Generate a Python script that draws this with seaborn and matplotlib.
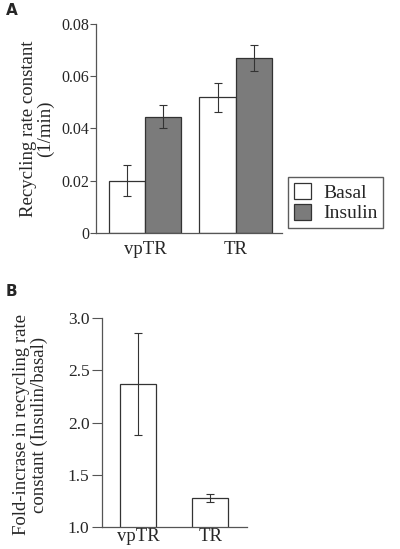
import numpy as np
import pandas as pd
import matplotlib
matplotlib.use("Agg")
import matplotlib.pyplot as plt
import seaborn as sns

# panel A data
receptors = ["vpTR", "TR"]
conditions = ["Basal", "Insulin"]
rate_basal = [0.020, 0.052]
rate_insulin = [0.0445, 0.067]
err_basal = [0.006, 0.0055]
err_insulin = [0.0045, 0.005]

# panel B data
fold_increase = [2.37, 1.275]
fold_err = [0.49, 0.04]

sns.set_theme(style="white")
plt.rcParams["font.family"] = ["Liberation Serif", "DejaVu Serif"]

df_a = pd.DataFrame({
    "receptor": receptors * 2,
    "condition": ["Basal"] * 2 + ["Insulin"] * 2,
    "rate": rate_basal + rate_insulin,
})
df_b = pd.DataFrame({"receptor": receptors, "fold": fold_increase})

fig = plt.figure(figsize=(4.0, 5.49), dpi=100)
ax1 = fig.add_axes([0.24, 0.5756, 0.465, 0.3807])
ax2 = fig.add_axes([0.255, 0.040, 0.3625, 0.3807])

pal = {"Basal": "white", "Insulin": "#7b7b7b"}
sns.barplot(data=df_a, x="receptor", y="rate", hue="condition", order=receptors,
            hue_order=conditions, palette=pal, errorbar=None, width=0.8,
            edgecolor="#333333", linewidth=0.9, ax=ax1, legend=True)

# error bars on bar centres
errs_a = err_basal + err_insulin
vals_a = rate_basal + rate_insulin
for p, v, e in zip(ax1.patches[:4], vals_a, errs_a):
    cx = p.get_x() + p.get_width() / 2
    ax1.errorbar(cx, v, yerr=e, fmt="none", ecolor="#333333", elinewidth=0.8,
                 capsize=3, capthick=0.8)

ax1.set_ylim(0, 0.08)
ax1.set_xlim(-0.54, 1.51)
ax1.set_yticks([0, 0.02, 0.04, 0.06, 0.08])
ax1.set_yticklabels(["0", "0.02", "0.04", "0.06", "0.08"], fontsize=11.5)
ax1.set_xlabel("")
ax1.set_ylabel("Recycling rate constant\n(1/min)", fontsize=13.5, linespacing=1.0)
ax1.yaxis.set_label_coords(-0.225, 0.5)
ax1.tick_params(axis="x", labelsize=13.5, length=0, pad=6)
ax1.tick_params(axis="y", direction="out", length=4, width=0.8, color="#555555", left=True, pad=1)
sns.despine(ax=ax1)
for s in ["left", "bottom"]:
    ax1.spines[s].set_color("#555555")
    ax1.spines[s].set_linewidth(0.9)

h, l = ax1.get_legend_handles_labels()
ax1.get_legend().remove()
fig.legend(h, l, loc="upper left", bbox_to_anchor=(0.72, 1 - 177 / 549),
           frameon=True, fancybox=False, edgecolor="#333333", fontsize=14,
           handlelength=0.9, handleheight=0.9, borderpad=0.3, labelspacing=0.1,
           handletextpad=0.6, borderaxespad=0)

sns.barplot(data=df_b, x="receptor", y="fold", order=receptors, color="white",
            errorbar=None, width=0.5, edgecolor="#333333", linewidth=0.9, ax=ax2)
for p, v, e in zip(ax2.patches, fold_increase, fold_err):
    cx = p.get_x() + p.get_width() / 2
    ax2.errorbar(cx, v, yerr=e, fmt="none", ecolor="#333333", elinewidth=0.8,
                 capsize=3, capthick=0.8)

ax2.set_ylim(1.0, 3.0)
ax2.set_xlim(-0.5, 1.51)
ax2.set_yticks([1.0, 1.5, 2.0, 2.5, 3.0])
ax2.set_yticklabels(["1.0", "1.5", "2.0", "2.5", "3.0"], fontsize=12.5)
ax2.set_xlabel("")
ax2.set_ylabel("Fold-incrase in recycling rate\nconstant (Insulin/basal)", fontsize=13.5,
               linespacing=1.0)
ax2.yaxis.set_label_coords(-0.375, 0.49)
ax2.tick_params(axis="x", labelsize=13.5, length=0, pad=1)
ax2.tick_params(axis="y", direction="out", length=7, width=0.8, color="#555555", left=True, pad=2)
sns.despine(ax=ax2)
for s in ["left", "bottom"]:
    ax2.spines[s].set_color("#555555")
    ax2.spines[s].set_linewidth(0.9)

fig.text(0.015, 0.995, "A", fontsize=11, fontweight="bold", family="DejaVu Sans", va="top")
fig.text(0.015, 0.482, "B", fontsize=11, fontweight="bold", family="DejaVu Sans", va="top")

fig.savefig("out.png", dpi=100)
